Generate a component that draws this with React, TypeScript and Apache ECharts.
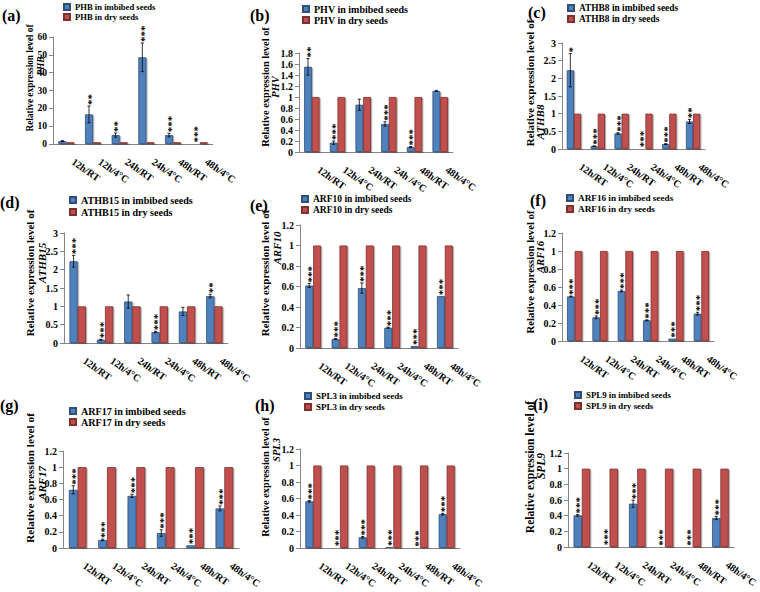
import React, { useEffect, useRef } from "react";
import * as echarts from "echarts";

// ---------- data ----------
const categories = ["12h/RT", "12h/4°C", "24h/RT", "24h/4°C", "48h/RT", "48h/4°C"];
const categoriesB = ["12h/RT", "12h/4°C", "24h/RT", "24h /4°C", "48h/RT", "48h/4°C"];
const genes = ["PHB", "PHV", "ATHB8", "ATHB15", "ARF10", "ARF16", "ARF17", "SPL3", "SPL9"];
const panelLetters = ["(a)", "(b)", "(c)", "(d)", "(e)", "(f)", "(g)", "(h)", "(i)"];

const dryValues = [1, 1, 1, 1, 1, 1];

const phbImbibed = [1.6, 16.6, 5.0, 48.6, 5.0, 0.3];
const phbErr = [0.3, 4.7, 1.2, 8.0, 1.0, 0];
const phbStars = ["", "**", "**", "***", "***", "***"];

const phvImbibed = [1.55, 0.17, 0.86, 0.51, 0.09, 1.11];
const phvErr = [0.15, 0.03, 0.1, 0.04, 0.01, 0.01];
const phvStars = ["**", "***", "", "***", "***", ""];

const athb8Imbibed = [2.23, 0.08, 0.44, 0.02, 0.14, 0.78];
const athb8Err = [0.47, 0.01, 0.02, 0, 0.01, 0.06];
const athb8Stars = ["*", "***", "***", "***", "***", "**"];

const athb15Imbibed = [2.23, 0.09, 1.13, 0.3, 0.86, 1.28];
const athb15Err = [0.16, 0.01, 0.18, 0.02, 0.11, 0.05];
const athb15Stars = ["***", "***", "", "***", "", "**"];

const arf10Imbibed = [0.61, 0.088, 0.585, 0.198, 0.02, 0.506];
const arf10Err = [0.02, 0.005, 0.05, 0.005, 0, 0];
const arf10Stars = ["***", "***", "***", "***", "***", "***"];

const arf16Imbibed = [0.495, 0.263, 0.556, 0.23, 0.026, 0.304];
const arf16Err = [0.005, 0.015, 0.01, 0.005, 0, 0.015];
const arf16Stars = ["***", "***", "***", "***", "***", "***"];

const arf17Imbibed = [0.72, 0.1, 0.645, 0.185, 0.033, 0.49];
const arf17Err = [0.05, 0.01, 0.02, 0.04, 0, 0.03];
const arf17Stars = ["***", "***", "***", "***", "***", "***"];

const spl3Imbibed = [0.566, 0.008, 0.13, 0.012, 0.002, 0.41];
const spl3Err = [0.01, 0, 0.01, 0, 0, 0.01];
const spl3Stars = ["***", "***", "***", "***", "***", "***"];

const spl9Imbibed = [0.404, 0.008, 0.553, 0.004, 0.002, 0.37];
const spl9Err = [0.01, 0, 0.045, 0, 0, 0.02];
const spl9Stars = ["***", "***", "***", "***", "***", "***"];

const imbibedSets = [phbImbibed, phvImbibed, athb8Imbibed, athb15Imbibed, arf10Imbibed, arf16Imbibed, arf17Imbibed, spl3Imbibed, spl9Imbibed];
const errSets = [phbErr, phvErr, athb8Err, athb15Err, arf10Err, arf16Err, arf17Err, spl3Err, spl9Err];
const starSets = [phbStars, phvStars, athb8Stars, athb15Stars, arf10Stars, arf16Stars, arf17Stars, spl3Stars, spl9Stars];

const yMax = [60, 1.8, 3, 3, 1.2, 1.2, 1.2, 1.2, 1.2];
const yStep = [10, 0.2, 0.5, 0.5, 0.2, 0.2, 0.2, 0.2, 0.2];

// ---------- layout ----------
// grid: left, top, width, height
const gridBoxes = [
  [53, 37, 160, 107],
  [299, 53, 154, 99],
  [562, 43, 143, 106],
  [64, 233, 164, 110],
  [300, 225, 158, 123],
  [562, 233, 152, 108],
  [63, 451, 176, 97],
  [300, 449, 160, 99],
  [568, 453, 173, 94],
];
// legend: text start x, first row center y, font size, row height
const legendBoxes = [
  [74, 7, 8.6, 10],
  [313, 9, 10, 11],
  [578, 8, 9.4, 11],
  [80, 200, 10.1, 12],
  [312, 199, 9.5, 11],
  [577, 198, 9.2, 11],
  [80, 411, 10.1, 11],
  [315, 396, 9.0, 11],
  [585, 395, 8.8, 11],
];
// y title: line1 x, line1 y, font, line2 x, line2 y
const titleBoxes = [
  [30, 78, 9.3, 41, 66],
  [265, 87, 10.4, 275, 87],
  [530, 83, 11, 540, 122],
  [30, 273, 11, 42, 263],
  [265, 273, 11, 277, 248],
  [530, 272, 10.7, 540, 257],
  [30, 478, 11.3, 42, 483],
  [265, 477, 10.4, 276, 450],
  [530, 467, 11.5, 541, 466],
];
// panel letter: x, y center
const letterBoxes = [
  [2, 15], [250, 15], [528, 12], [0, 202], [250, 205], [530, 200], [0, 405], [255, 405], [533, 404],
];

const FAMILY = "Liberation Serif";
const BLUE = "#4F81BD";
const BLUE_B = "#2F4F7A";
const RED = "#C0504D";
const RED_B = "#7F2F2D";
const AXIS = "#868686";

function buildOption() {
  const grid: any[] = [];
  const xAxis: any[] = [];
  const yAxis: any[] = [];
  const legend: any[] = [];
  const series: any[] = [];
  const graphic: any[] = [];

  genes.forEach((g, i) => {
    const [l, t, w, h] = gridBoxes[i];
    grid.push({ left: l, top: t, width: w, height: h, containLabel: false });
    xAxis.push({
      type: "category",
      gridIndex: i,
      data: i === 1 ? categoriesB : categories,
      axisLine: { lineStyle: { color: AXIS, width: 1 } },
      axisTick: { length: 4, lineStyle: { color: AXIS } },
      axisLabel: {
        interval: 0,
        rotate: -35,
        margin: 12,
        padding: [0, 0, 0, 8],
        fontFamily: FAMILY,
        fontWeight: "bold",
        fontSize: 10,
        color: "#000",
      },
    });
    yAxis.push({
      type: "value",
      gridIndex: i,
      min: 0,
      max: yMax[i],
      interval: yStep[i],
      splitLine: { show: false },
      axisLine: { show: true, lineStyle: { color: AXIS, width: 1 } },
      axisTick: { show: true, length: 4, lineStyle: { color: AXIS } },
      axisLabel: {
        margin: 6,
        fontFamily: FAMILY,
        fontWeight: "bold",
        fontSize: i === 0 ? 9.5 : 10,
        color: "#000",
      },
    });
    const nameImb = `${g} in imbibed seeds`;
    const nameDry = `${g} in dry seeds`;
    const [lx, ly, lfs, lrow] = legendBoxes[i];
    legend.push({
      data: [nameImb, nameDry],
      orient: "vertical",
      left: lx - 11,
      top: ly - lrow / 2,
      padding: 0,
      itemGap: 0,
      itemWidth: 6,
      itemHeight: 6,
      icon: "rect",
      selectedMode: false,
      textStyle: { fontFamily: FAMILY, fontWeight: "bold", fontSize: lfs, color: "#000", lineHeight: lrow },
    });
    const barShadow = { shadowColor: "rgba(0,0,0,0.35)", shadowOffsetX: 1.2, shadowOffsetY: 1, shadowBlur: 1 };
    series.push({
      type: "bar",
      name: nameImb,
      xAxisIndex: i,
      yAxisIndex: i,
      data: imbibedSets[i],
      barGap: "0%",
      barCategoryGap: "40%",
      itemStyle: { color: BLUE, borderColor: BLUE_B, borderWidth: 0.8, ...barShadow },
    });
    series.push({
      type: "bar",
      name: nameDry,
      xAxisIndex: i,
      yAxisIndex: i,
      data: dryValues,
      barGap: "0%",
      barCategoryGap: "40%",
      itemStyle: { color: RED, borderColor: RED_B, borderWidth: 0.8, ...barShadow },
    });
    const errs = errSets[i];
    const stars = starSets[i];
    series.push({
      type: "custom",
      xAxisIndex: i,
      yAxisIndex: i,
      z: 10,
      silent: true,
      clip: false,
      data: imbibedSets[i].map((v, k) => [k, v]),
      renderItem: (params: any, api: any) => {
        const k = api.value(0);
        const v = api.value(1);
        const e = errs[params.dataIndex] || 0;
        const c = api.coord([k, v]);
        const band = api.size([1, 0])[0];
        const x = c[0] - band * 0.15;
        const topY = api.coord([k, v + e])[1];
        const botY = api.coord([k, Math.max(0, v - e)])[1];
        const children: any[] = [];
        const ls = { stroke: "#000", lineWidth: 0.8 };
        if (e > 0) {
          children.push({ type: "line", shape: { x1: x, y1: topY, x2: x, y2: botY }, style: ls });
          children.push({ type: "line", shape: { x1: x - 1.6, y1: topY, x2: x + 1.6, y2: topY }, style: ls });
          children.push({ type: "line", shape: { x1: x - 1.6, y1: botY, x2: x + 1.6, y2: botY }, style: ls });
        }
        const s = stars[params.dataIndex];
        if (s) {
          children.push({
            type: "text",
            x: x + 1.6,
            y: topY - 1,
            rotation: Math.PI / 2,
            style: {
              text: s,
              fontFamily: FAMILY,
              fontWeight: "bold",
              fontSize: 11,
              fill: "#000",
              align: "left",
              verticalAlign: "middle",
            },
          });
        }
        return { type: "group", children };
      },
    });

    const [t1x, t1y, tfs, t2x, t2y] = titleBoxes[i];
    graphic.push({
      type: "text",
      x: t1x,
      y: t1y,
      rotation: Math.PI / 2,
      style: {
        text: "Relative expression level of",
        fontFamily: FAMILY,
        fontWeight: "bold",
        fontSize: tfs,
        fill: "#000",
        align: "center",
        verticalAlign: "middle",
      },
    });
    graphic.push({
      type: "text",
      x: t2x,
      y: t2y,
      rotation: Math.PI / 2,
      style: {
        text: g,
        fontFamily: FAMILY,
        fontWeight: "bold",
        fontStyle: "italic",
        fontSize: tfs,
        fill: "#000",
        align: "center",
        verticalAlign: "middle",
      },
    });
    const [px, py] = letterBoxes[i];
    graphic.push({
      type: "text",
      x: px,
      y: py,
      style: {
        text: panelLetters[i],
        fontFamily: FAMILY,
        fontWeight: "bold",
        fontSize: 16,
        fill: "#000",
        align: "left",
        verticalAlign: "middle",
      },
    });
  });

  return { animation: false, backgroundColor: "#fff", grid, xAxis, yAxis, legend, series, graphic };
}

export default function App() {
  const ref = useRef<HTMLDivElement>(null);
  useEffect(() => {
    if (!ref.current) return;
    const chart = echarts.init(ref.current, undefined, { renderer: "svg" });
    chart.setOption(buildOption() as any);
    return () => chart.dispose();
  }, []);
  return (
    <div
      ref={ref}
      style={{ position: "absolute", left: 0, top: 0, width: 760, height: 592, background: "#fff" }}
    />
  );
}
